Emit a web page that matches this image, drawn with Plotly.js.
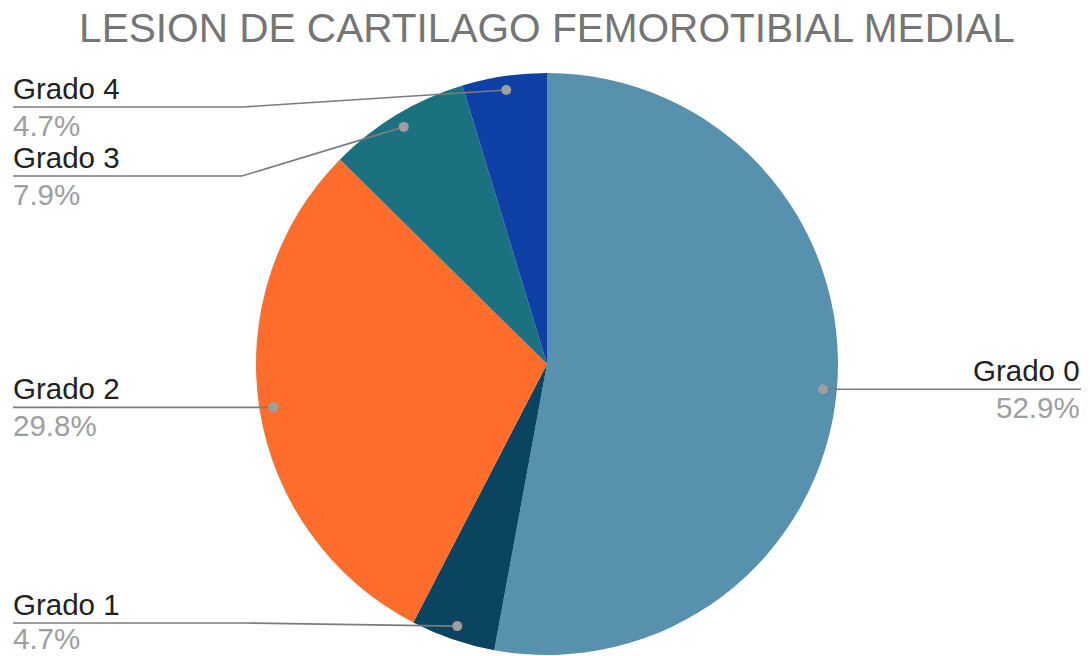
<!DOCTYPE html>
<html>
<head>
<meta charset="utf-8">
<script src="https://cdn.plot.ly/plotly-3.0.1.min.js"></script>
<style>html,body{margin:0;padding:0;background:#fff;}#chart{width:1090px;height:656px;}</style>
</head>
<body>
<div id="chart"></div>
<script>
// ---- data ----
const labels = ['Grado 0', 'Grado 1', 'Grado 2', 'Grado 3', 'Grado 4'];
const values = [52.9, 4.7, 29.8, 7.9, 4.7];
const colors = ['#5891ad', '#0b4460', '#ff6d2d', '#1b717f', '#0f40a5'];
const chartTitle = 'LESION DE CARTILAGO FEMOROTIBIAL MEDIAL';

// ---- layout geometry (pixels) ----
const W = 1090, H = 656;
const cx = 547, cy = 364, R = 291;
const dotFrac = 0.952;
// label placement: side, underline y (null = same as dot), elbow x (null = straight)
const labelSide = ['right', 'left', 'left', 'left', 'left'];
const underlineY = [null, 623, null, 176, 107];
const elbowX = [null, 245, null, 242, 243];
const leftX = 12, rightX = 1081;
const fontSize = 29.5;
const boxHalf = fontSize * 1.16 / 2;

const total = values.reduce((a, b) => a + b, 0);
let cum = 0;
const shapes = [];
const annotations = [];
const lineColor = '#7b7b7b';
const dotColor = '#9e9e9e';
const fontFam = 'Arial, "Liberation Sans", sans-serif';

values.forEach((v, i) => {
  const mid = (cum + v / 2) / total;
  cum += v;
  const th = 2 * Math.PI * mid;
  const dx = cx + R * dotFrac * Math.sin(th);
  const dy = cy - R * dotFrac * Math.cos(th);
  const uy = underlineY[i] === null ? dy : underlineY[i];
  const endX = labelSide[i] === 'left' ? leftX + 1 : rightX;
  let path = 'M' + dx + ',' + dy;
  if (elbowX[i] !== null) path += ' L' + elbowX[i] + ',' + uy;
  else path += ' L' + dx + ',' + uy;
  path += ' L' + endX + ',' + uy;
  shapes.push({type: 'path', xref: 'x', yref: 'y', layer: 'above', path: path,
    line: {color: lineColor, width: 1.6}});
  shapes.push({type: 'circle', xref: 'x', yref: 'y', layer: 'above',
    xsizemode: 'pixel', ysizemode: 'pixel', xanchor: dx, yanchor: dy,
    x0: -5, x1: 5, y0: -5, y1: 5, fillcolor: dotColor, line: {width: 0}});
  const anchor = labelSide[i] === 'left' ? 'left' : 'right';
  const ax = labelSide[i] === 'left' ? leftX : rightX;
  const pctY = Math.min(uy + 18, H - boxHalf - 0.5);
  annotations.push({xref: 'x', yref: 'y', x: ax, y: uy - 19, xanchor: anchor, yanchor: 'middle', borderpad: 0,
    text: labels[i], showarrow: false, font: {family: fontFam, size: fontSize, color: '#212121'}});
  annotations.push({xref: 'x', yref: 'y', x: ax, y: pctY, xanchor: anchor, yanchor: 'middle', borderpad: 0,
    text: (v / total * 100).toFixed(1) + '%', showarrow: false, font: {family: fontFam, size: fontSize, color: '#9e9e9e'}});
});

const pie = {
  type: 'pie', labels: labels, values: values, sort: false, direction: 'clockwise', rotation: 0,
  marker: {colors: colors, line: {color: '#ffffff', width: 0}},
  textinfo: 'none', hoverinfo: 'label+percent',
  domain: {x: [(cx - R) / W, (cx + R) / W], y: [(H - (cy + R)) / H, (H - (cy - R)) / H]}
};

const layout = {
  width: W, height: H, margin: {l: 0, r: 0, t: 0, b: 0},
  paper_bgcolor: '#ffffff', plot_bgcolor: 'rgba(0,0,0,0)', showlegend: false,
  xaxis: {range: [0, W], visible: false, fixedrange: true},
  yaxis: {range: [H, 0], visible: false, fixedrange: true},
  title: {text: chartTitle, font: {family: fontFam, size: 40.6, color: '#757575'},
    x: 547 / W, xanchor: 'center', xref: 'paper', y: 1 - 28 / H, yref: 'container', yanchor: 'middle'},
  shapes: shapes, annotations: annotations
};

Plotly.newPlot('chart', [pie], layout, {displayModeBar: false, staticPlot: true});
</script>
</body>
</html>
